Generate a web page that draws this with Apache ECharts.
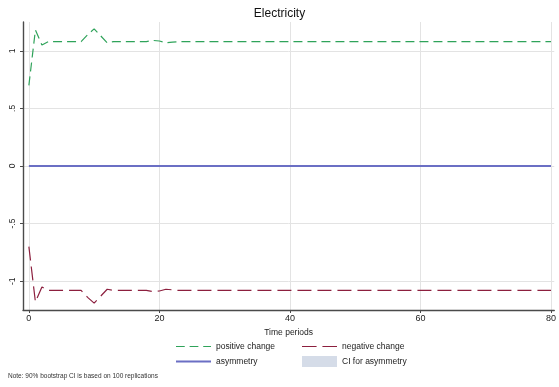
<!doctype html>
<html>
<head>
<meta charset="utf-8">
<title>Electricity</title>
<script type="text/javascript" src="https://cdn.jsdelivr.net/npm/echarts@6/dist/echarts.min.js"></script>
</head>
<body style="margin:0;padding:0">
<div id="tb" style="width:559px;height:387px;"></div>
<script>
// data
var periods = [];
for (var i = 0; i <= 80; i++) periods.push(i);
var posHead = [0.70, 1.18, 1.05, 1.08, 1.08, 1.08, 1.08, 1.08, 1.08, 1.14, 1.19, 1.13, 1.07, 1.08, 1.08, 1.08, 1.08, 1.08, 1.08, 1.09, 1.085, 1.07, 1.075, 1.08];
var negHead = [-0.70, -1.18, -1.05, -1.08, -1.08, -1.08, -1.08, -1.08, -1.08, -1.14, -1.19, -1.13, -1.07, -1.08, -1.08, -1.08, -1.08, -1.08, -1.08, -1.09, -1.085, -1.07, -1.075, -1.08];
var posTail = 1.08, negTail = -1.08, asymValue = 0;
var xTicks = [0, 20, 40, 60, 80];
var yTicks = [-1, -0.5, 0, 0.5, 1];

function build(head, tail) {
    var out = [];
    for (var i = 0; i < periods.length; i++) {
        out.push([periods[i], i < head.length ? head[i] : tail]);
    }
    return out;
}
var asymData = periods.map(function (t) { return [t, asymValue]; });

var cGreen = '#2fa35a', cRed = '#8c1f3e', cBlue = '#6b6fc4', cCI = '#d5dce8';

var bt = document.getElementById('tb');
var chart = echarts.init(bt);
var font = 'Liberation Sans, Arial, sans-serif';
// legend icons drawn as short line pieces
var dashShort = 'path://M0,0h9v1h-9z M14,0h9v1h-9z M28,0h8v1h-8z';
var dashLong = 'path://M0,0h15v1h-15z M21,0h15v1h-15z';
var legText = { fontSize: 8.5, color: '#222' };

function leg(left, top, name, icon, color, h) {
    return {
        left: left, top: top, itemWidth: 35, itemHeight: h, itemGap: 0,
        textStyle: legText, selectedMode: false,
        data: [{ name: name, icon: icon, itemStyle: { color: color, borderWidth: 0 } }]
    };
}

chart.setOption({
    animation: false,
    textStyle: { fontFamily: font },
    title: {
        text: 'Electricity', left: 'center', top: 3,
        textStyle: { fontSize: 12, fontWeight: 'normal', color: '#111', fontFamily: font }
    },
    grid: { left: 23, right: 2, top: 22, bottom: 77 },
    xAxis: {
        type: 'value', min: -0.9, max: 80.5,
        name: 'Time periods', nameLocation: 'middle', nameGap: 13,
        nameTextStyle: { fontSize: 8.5, color: '#222' },
        axisLine: { onZero: false, lineStyle: { color: '#4a4a4a', width: 1.4 } },
        axisTick: { customValues: xTicks, length: 3, lineStyle: { color: '#4a4a4a' } },
        axisLabel: { customValues: xTicks, fontSize: 9, color: '#222', margin: 4 },
        splitLine: { show: true, lineStyle: { color: '#e3e3e3', width: 1 } }
    },
    yAxis: {
        type: 'value', min: -1.25, max: 1.25,
        axisLine: { show: true, onZero: false, lineStyle: { color: '#4a4a4a', width: 1.4 } },
        axisTick: { show: true, customValues: yTicks, length: 3, lineStyle: { color: '#4a4a4a' } },
        axisLabel: {
            customValues: yTicks, fontSize: 8.5, color: '#222', rotate: 90, margin: 6,
            formatter: function (v) { return String(v).replace('0.', '.'); }
        },
        splitLine: { show: true, lineStyle: { color: '#e3e3e3', width: 1 } }
    },
    legend: [
        leg(171, 337, 'positive change', dashShort, cGreen, 1.4),
        leg(171, 352, 'asymmetry', 'rect', cBlue, 2),
        leg(297, 337, 'negative change', dashLong, cRed, 1.4),
        leg(297, 351, 'CI for asymmetry', 'rect', cCI, 11)
    ],
    graphic: [{
        type: 'text', left: 8, top: 373,
        style: { text: 'Note: 90% bootstrap CI is based on 100 replications', fontSize: 6.5, fill: '#333', fontFamily: font }
    }],
    series: [{
        name: 'CI for asymmetry', type: 'line', symbol: 'none', data: [],
        itemStyle: { color: cCI }, lineStyle: { color: cCI }
    }, {
        name: 'asymmetry', type: 'line', symbol: 'none', data: asymData,
        itemStyle: { color: cBlue }, lineStyle: { color: cBlue, width: 1.8 }
    }, {
        name: 'positive change', type: 'line', symbol: 'none', data: build(posHead, posTail),
        itemStyle: { color: cGreen }, lineStyle: { color: cGreen, width: 1.2, type: [9, 5] }
    }, {
        name: 'negative change', type: 'line', symbol: 'none', data: build(negHead, negTail),
        itemStyle: { color: cRed }, lineStyle: { color: cRed, width: 1.2, type: [14, 6] }
    }]
});
</script>
</body>
</html>
